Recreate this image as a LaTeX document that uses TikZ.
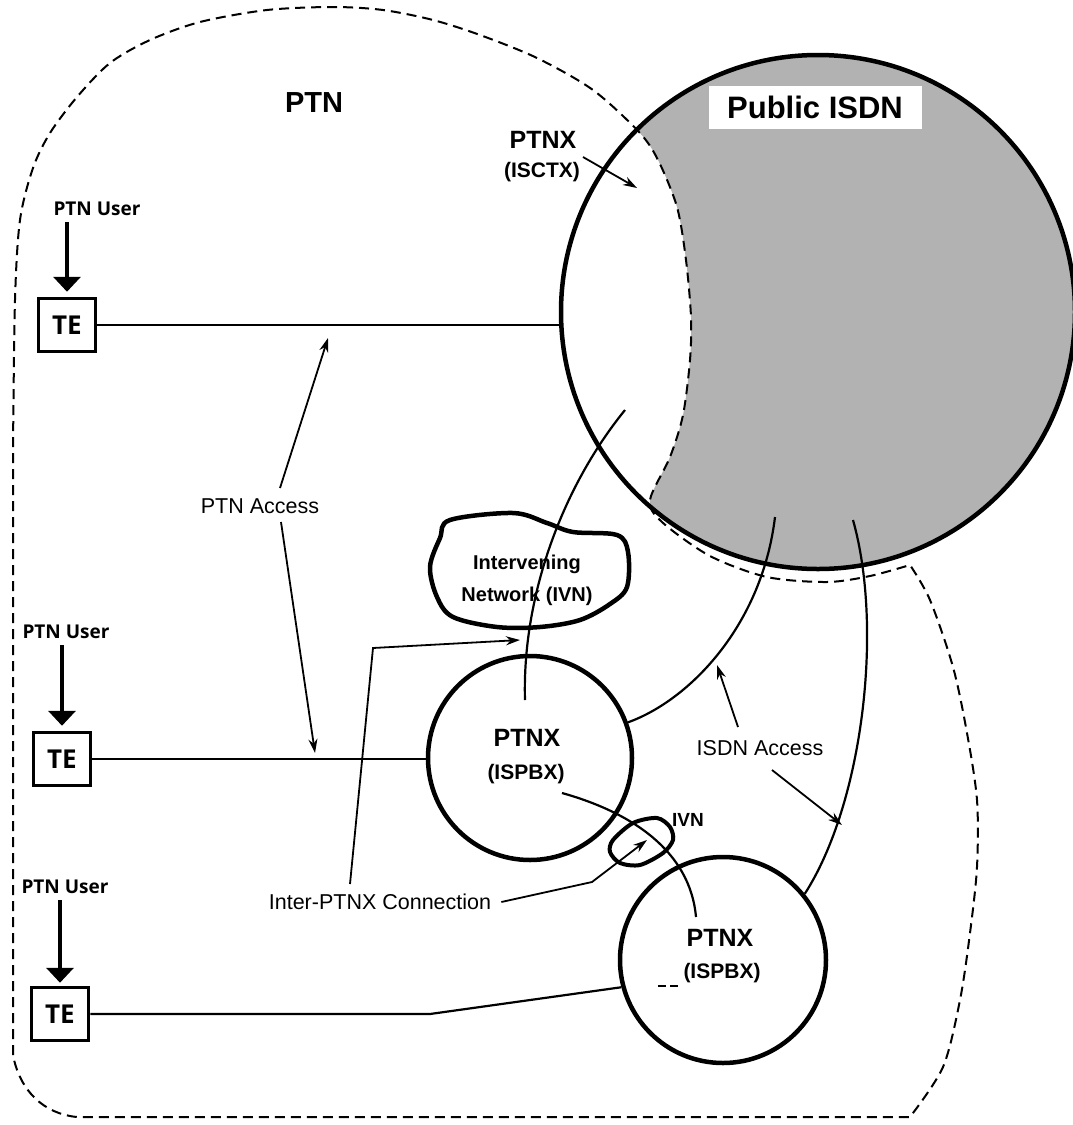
\documentclass[tikz,border=0pt]{standalone}
\usepackage{fontspec}
\setmainfont{Liberation Sans}
\newfontfamily\osans{Open Sans}
\usetikzlibrary{arrows.meta}
\begin{document}
\begin{tikzpicture}[x=1pt,y=-1pt,
  every node/.style={inner sep=0pt},
  reg/.style={font=\fontsize{21.5}{24}\selectfont},
  btxt/.style={font=\bfseries\fontsize{#1}{#1}\selectfont},
  usertxt/.style={font=\osans\bfseries\fontsize{19}{22}\selectfont},
  tebox/.style={draw, line width=3.5pt, minimum width=57pt, minimum height=53pt,
                font=\osans\bfseries\fontsize{26}{28}\selectfont},
  pcirc/.style={circle, draw, line width=4.5pt},
  conn/.style={line width=2.2pt},
  arr/.style={line width=1.8pt, -{Stealth[length=14pt,width=9pt]}},
  userarr/.style={line width=4.5pt, -{Triangle[length=15pt,width=27pt]}},
  ptnline/.style={dash pattern=on 10pt off 6pt, line width=2pt},
  blobline/.style={line width=4.5pt, line join=round},
  isdnfill/.style={fill=black!30}
]
\useasboundingbox (0,0) rectangle (1073,1125);

% ---- shaded part of the public ISDN
\begin{scope}
  \clip (818,312) circle [radius=257pt];
  \fill[isdnfill] plot[smooth] coordinates {(593,90) (639,132) (658,160) (677,207) (686,260) (691,317) (690,360) (683,415) (670,457) (650,500) (662,522)}
     -- (662,640) -- (1100,640) -- (1100,0) -- (593,0) -- cycle;
\end{scope}

% ---- PTN boundary (dashed)
\draw[ptnline] (13,1055) -- (13,450)
  -- plot[smooth] coordinates {(13,450) (15,300) (20,220) (33,168) (50,133) (77,97) (110,63) (150,40) (200,22) (267,10) (333,7) (383,10) (433,20) (480,35) (537,58) (593,90) (639,132) (658,160) (677,207) (686,260) (691,317) (690,360) (683,415) (670,457) (650,500) (662,522) (710,556) (767,577) (827,582) (870,576) (910,565)}
  -- plot[smooth] coordinates {(910,565) (930,600) (953,667) (967,733) (977,800) (977,867) (970,933) (960,1000) (943,1067) (910,1117)}
  -- (77,1117) .. controls (45,1114) and (20,1092) .. (13,1055) -- cycle;

% ---- main networks
\node[pcirc, minimum size=514pt] (isdn) at (818,312) {};
\node[fill=white, minimum width=213pt, minimum height=43pt, btxt=31] (pisdn) at (815,107) {Public ISDN};
\node[btxt=29] (ptn) at (314,103) {PTN};

\node[btxt=25] (isctx1) at (543,140) {PTNX};
\node[btxt=21] (isctx2) at (542,172) {(ISCTX)};
\coordinate (isctxs) at (583,157);
\coordinate (isctxt) at (637,188);
\draw[arr] (isctxs) -- (isctxt);

\node[pcirc, minimum size=204pt] (ptnx2) at (530,758) {};
\node[btxt=25] (ptnx2a) at (527,738) {PTNX};
\node[btxt=21] (ptnx2b) at (526,774) {(ISPBX)};

\node[pcirc, minimum size=206pt] (ptnx3) at (723,960) {};
\node[btxt=25] (ptnx3a) at (720,938) {PTNX};
\node[btxt=21] (ptnx3b) at (722,973) {(ISPBX)};
\coordinate (mk1) at (658,986);
\coordinate (mk2) at (679,986);
\draw[line width=1.3pt, dash pattern=on 8pt off 4pt] (mk1) -- (mk2);

% ---- users and terminals
\node[usertxt] (user1) at (97,209) {PTN User};
\node[tebox] (te1) at (67,325) {TE};
\node[usertxt] (user2) at (66,632) {PTN User};
\node[tebox] (te2) at (62,759) {TE};
\node[usertxt] (user3) at (65,887) {PTN User};
\node[tebox] (te3) at (60,1014) {TE};

\draw[userarr] ([yshift=-6pt]te1.north |- user1.south) -- ([yshift=5pt]te1.north);
\draw[userarr] ([yshift=-6pt]te2.north |- user2.south) -- ([yshift=5pt]te2.north);
\draw[userarr] ([yshift=-6pt]te3.north |- user3.south) -- ([yshift=3pt]te3.north);

\draw[conn] (te1.east) -- (te1.east -| isdn.west);
\draw[conn] (te2.east) -- (te2.east -| ptnx2.west);
\coordinate (te3bend) at (430,1014);
\draw[conn] (te3.east) -- (te3bend) -- (ptnx3.195);

% ---- PTN access
\node[reg] (ptnacc) at (260,506) {PTN Access};
\coordinate (pa1s) at (280,488);
\coordinate (pa1t) at (328,338);
\coordinate (pa2s) at (281,522);
\coordinate (pa2t) at (315,753);
\draw[arr] (pa1s) -- (pa1t);
\draw[arr] (pa2s) -- (pa2t);

% ---- intervening network
\draw[blobline] plot[smooth cycle, tension=0.55] coordinates {(450,520) (513,513) (547,523) (573,532) (617,535) (628,552) (627,587) (610,604) (580,620) (540,627) (497,627) (453,617) (437,597) (430,567) (440,538)};
\node[btxt=20, align=center] (ivntxt) at (527,580) {Intervening\\[12pt]Network (IVN)};

\coordinate (ivnA) at (525,700);
\coordinate (ivnB) at (625,410);
\draw[conn] (ivnA) .. controls (522,600) and (560,490) .. (ivnB);

% ---- small IVN
\draw[line width=4pt] plot[smooth cycle] coordinates {(613,840) (633,823) (657,818) (670,827) (673,840) (663,853) (640,865) (620,863) (610,852)};
\node[btxt=19] (ivn2) at (688,820) {IVN};
\coordinate (lnkA) at (562,793);
\coordinate (lnkB) at (696,917);
\draw[conn] (lnkA) .. controls (630,812) and (690,850) .. (lnkB);

% ---- inter-PTNX connection
\node[reg] (ipc) at (380,902) {Inter-PTNX Connection};
\coordinate (ipcs1) at (350,884);
\coordinate (ipcbend1) at (373,648);
\coordinate (ipctip1) at (520,640);
\draw[arr] (ipcs1) -- (ipcbend1) -- (ipctip1);
\coordinate (ipcbend2) at (592,882);
\coordinate (ipctip2) at (647,840);
\draw[arr] ([xshift=10pt]ipc.east) -- (ipcbend2) -- (ipctip2);

% ---- ISDN access
\coordinate (isdnA) at (775,517);
\coordinate (isdnB) at (853,520);
\draw[conn] (ptnx2.20) .. controls (690,700) and (762,625) .. (isdnA);
\draw[conn] (ptnx3.39) .. controls (862,805) and (884,630) .. (isdnB);
\node[reg] (isdnacc) at (760,748) {ISDN Access};
\coordinate (ia1s) at (738,727);
\coordinate (ia1t) at (717,665);
\coordinate (ia2s) at (772,770);
\coordinate (ia2t) at (842,825);
\draw[arr] (ia1s) -- (ia1t);
\draw[arr] (ia2s) -- (ia2t);
\end{tikzpicture}
\end{document}
